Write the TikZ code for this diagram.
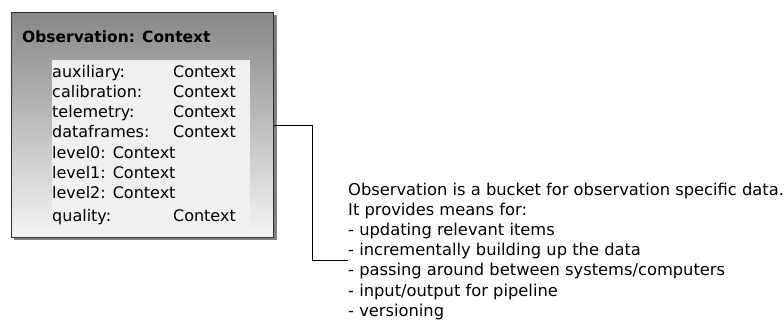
\documentclass[tikz,border=0pt]{standalone}
\usepackage{fontspec}
\setmainfont{DejaVu Sans}
\usetikzlibrary{positioning}
\definecolor{boxtop}{RGB}{135,135,135}
\definecolor{boxbottom}{RGB}{245,245,245}
\definecolor{boxline}{RGB}{48,48,48}
\definecolor{shadowgray}{RGB}{128,128,128}
\definecolor{slotfill}{RGB}{240,240,240}

\begin{document}
\begin{tikzpicture}[x=1pt,y=-1pt,
  objbox/.style={draw=boxline, line width=1.2pt, top color=boxtop, bottom color=boxbottom, minimum width=262pt, minimum height=225pt, inner sep=0pt, anchor=north west},
  slotbox/.style={fill=slotfill, minimum width=198pt, minimum height=167pt, inner sep=0pt, anchor=north west},
  slottext/.style={font=\fontsize{16}{20}\selectfont, inner sep=0pt},
  conn/.style={line width=1pt, black},
  connshadow/.style={line width=1pt, shadowgray!80}]
\useasboundingbox (0,0) rectangle (784,322);
% Object box with shadow
\fill[shadowgray] (14,15) rectangle (277,240);
\node[objbox] (obs) at (11,12) {};
\node[font=\fontsize{15.5}{19}\selectfont\bfseries, inner sep=0pt, anchor=base west] (title) at (22,42) {Observation: Context};
\node[slotbox] (slots) at (52,60) {};
% Attributes
\foreach \name/\y in {auxiliary/77, calibration/97, telemetry/117, dataframes/137, quality/221} {
  \node[slottext, anchor=base west] (\name) at (52,\y) {\name:};
  \node[slottext, anchor=base east] (\name-type) at (236,\y) {Context};
}
\foreach \i/\y in {0/158, 1/178, 2/198}
  \node[slottext, anchor=base west] (level\i) at (52,\y) {level\i:\hspace{7pt}Context};
% Note
\node[font=\fontsize{16.3}{20.2}\selectfont, align=left, inner sep=0pt, anchor=north west] (desc) at (348,182.6)
  {Observation is a bucket for observation specific data.\\
   It provides means for:\\
   - updating relevant items\\
   - incrementally building up the data\\
   - passing around between systems/computers\\
   - input/output for pipeline\\
   - versioning};
% Connector
\coordinate (tap) at (obs.east |- 0,125);
\coordinate (bend) at (312,260);
\coordinate (lead) at (desc.west |- 0,260);
\draw[connshadow, shift={(2,2)}] (tap) -| (bend) -- (lead);
\draw[conn] (tap) -| (bend) -- (lead);
\end{tikzpicture}
\end{document}
